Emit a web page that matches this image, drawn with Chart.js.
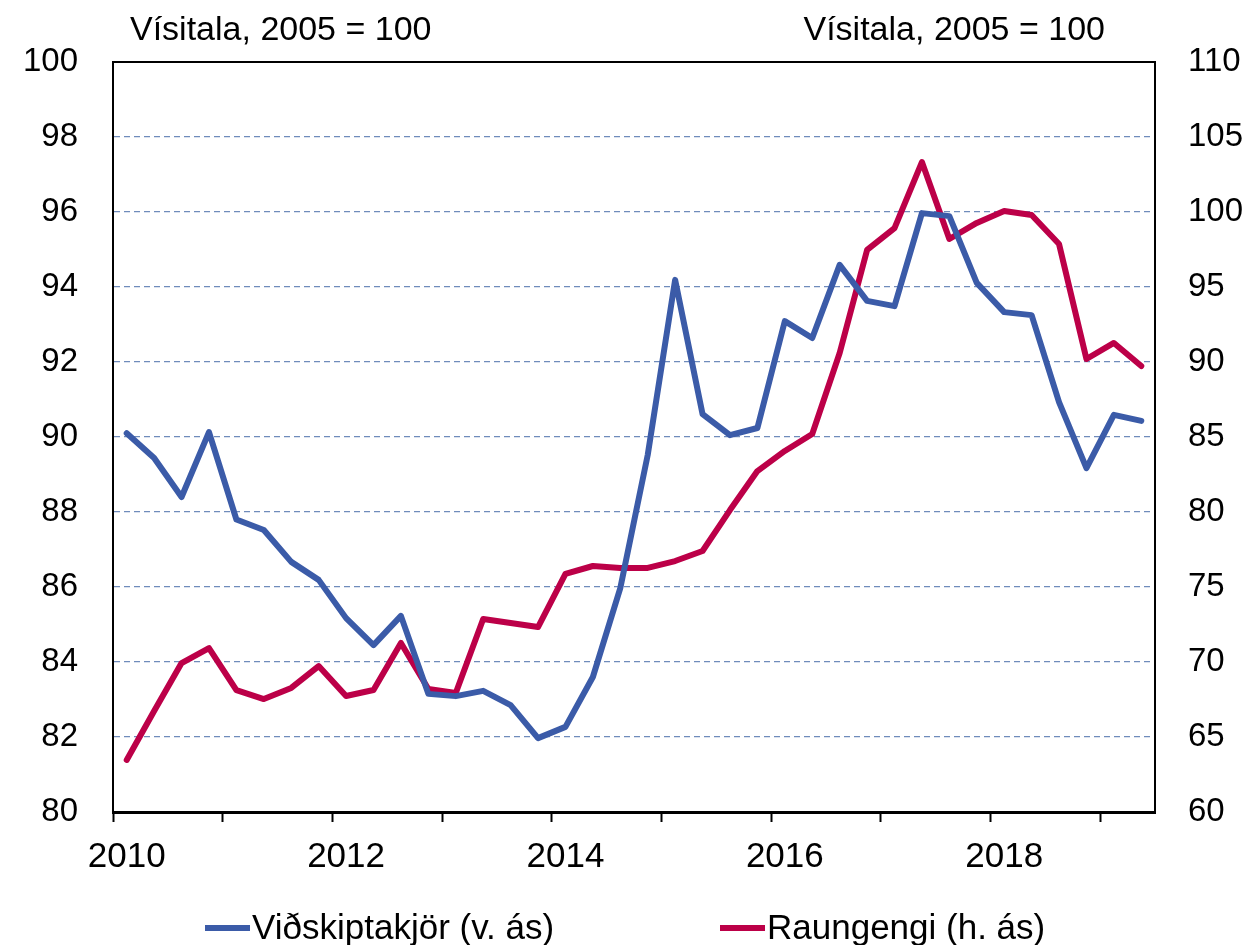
<!DOCTYPE html>
<html>
<head>
<meta charset="utf-8">
<script src="https://cdn.jsdelivr.net/npm/chart.js@4.4.1/dist/chart.umd.min.js"></script>
<style>
html,body{margin:0;padding:0;background:#fff;}
#wrap{width:1254px;height:945px;position:relative;}
</style>
</head>
<body>
<div id="wrap"><canvas id="c" width="1254" height="945"></canvas></div>
<script>
// Quarterly categories 2010Q1 – 2019Q2
const years = [2010,2011,2012,2013,2014,2015,2016,2017,2018,2019];
const categories = [];
years.forEach(y => { for (let q = 1; q <= 4; q++) { if (y === 2019 && q > 2) break; categories.push(y + 'Q' + q); } });

const yearLabels = ['2010','2012','2014','2016','2018'];

// Viðskiptakjör (left axis)
const vidskiptakjor = [90.10,89.44,88.40,90.13,87.80,87.52,86.67,86.19,85.17,84.45,
  85.23,83.15,83.09,83.23,82.85,81.97,82.27,83.60,85.97,89.52,
  94.19,90.61,90.05,90.24,93.09,92.64,94.59,93.63,93.49,95.97,
  95.89,94.11,93.33,93.25,90.93,89.17,90.59,90.43];

// Raungengi (right axis)
const raungengi = [63.47,66.73,69.93,70.93,68.13,67.53,68.27,69.73,67.73,68.13,
  71.27,68.20,67.93,72.87,72.60,72.33,75.87,76.40,76.27,76.27,
  76.73,77.40,80.13,82.73,84.07,85.20,90.60,97.47,98.93,103.33,
  98.20,99.27,100.07,99.80,97.87,90.20,91.27,89.73];

const leftTitle = 'Vísitala, 2005 = 100';
const rightTitle = 'Vísitala, 2005 = 100';
const seriesNames = ['Viðskiptakjör (v. ás)', 'Raungengi (h. ás)'];
const colors = ['#3B5BA8', '#BC0048'];

const FONT = "'Liberation Sans', Arial, sans-serif";

const overlay = {
  id: 'overlay',
  afterDraw(chart) {
    const ctx = chart.ctx;
    const a = chart.chartArea;
    ctx.save();
    // top border line
    ctx.strokeStyle = '#000';
    ctx.lineWidth = 2;
    ctx.beginPath();
    ctx.moveTo(a.left, a.top);
    ctx.lineTo(a.right, a.top);
    ctx.stroke();
    // titles
    ctx.fillStyle = '#000';
    ctx.font = '34px ' + FONT;
    ctx.textBaseline = 'middle';
    ctx.textAlign = 'left';
    ctx.fillText(leftTitle, 130, 31);
    ctx.textAlign = 'right';
    ctx.fillText(rightTitle, 1105, 31);
    // legend
    ctx.font = '35px ' + FONT;
    const items = [{x: 205, text: seriesNames[0], c: colors[0]}, {x: 720, text: seriesNames[1], c: colors[1]}];
    ctx.textAlign = 'left';
    items.forEach(it => {
      ctx.strokeStyle = it.c;
      ctx.lineWidth = 6;
      ctx.beginPath();
      ctx.moveTo(it.x, 928);
      ctx.lineTo(it.x + 45, 928);
      ctx.stroke();
      ctx.fillStyle = '#000';
      ctx.fillText(it.text, it.x + 47, 929);
    });
    ctx.restore();
  }
};

new Chart(document.getElementById('c'), {
  type: 'line',
  data: {
    labels: categories,
    datasets: [
      { label: seriesNames[0], data: vidskiptakjor, borderColor: colors[0], backgroundColor: colors[0],
        borderWidth: 6, pointRadius: 0, tension: 0, yAxisID: 'y', borderJoinStyle: 'round', borderCapStyle: 'round' },
      { label: seriesNames[1], data: raungengi, borderColor: colors[1], backgroundColor: colors[1],
        borderWidth: 6, pointRadius: 0, tension: 0, yAxisID: 'y1', borderJoinStyle: 'round', borderCapStyle: 'round' }
    ]
  },
  options: {
    responsive: false,
    animation: false,
    events: [],
    layout: { padding: { top: 62, left: 0, right: 0, bottom: 0 } },
    plugins: { legend: { display: false }, tooltip: { enabled: false } },
    scales: {
      x: {
        type: 'category',
        offset: true,
        afterFit(s) { s.height = 133; },
        grid: {
          offset: true,
          drawOnChartArea: false,
          drawTicks: true,
          tickLength: 10,
          tickWidth: 2,
          tickColor: c => (c.index % 4 === 0 ? '#000' : 'rgba(0,0,0,0)')
        },
        border: { display: true, color: '#000', width: 3 },
        ticks: {
          autoSkip: false,
          maxRotation: 0,
          minRotation: 0,
          padding: 14,
          color: '#000',
          font: { family: FONT, size: 35 },
          callback(v, i) {
            const lab = categories[i];
            const yr = lab.slice(0, 4);
            return (lab.endsWith('Q1') && yearLabels.includes(yr)) ? yr : '';
          }
        }
      },
      y: {
        position: 'left',
        min: 80, max: 100,
        afterFit(s) { s.width = 113; },
        ticks: { stepSize: 2, padding: 35, color: '#000', font: { family: FONT, size: 33 } },
        grid: {
          drawTicks: false,
          lineWidth: 1.3,
          color: c => (c.tick && (c.tick.value === 80 || c.tick.value === 100)) ? 'rgba(0,0,0,0)' : '#6F8BBB'
        },
        border: { display: true, color: '#000', width: 2, dash: [6, 4] }
      },
      y1: {
        position: 'right',
        min: 60, max: 110,
        afterFit(s) { s.width = 99; },
        ticks: { stepSize: 5, padding: 33, color: '#000', font: { family: FONT, size: 33 } },
        grid: { drawOnChartArea: false, drawTicks: false },
        border: { display: true, color: '#000', width: 2 }
      }
    }
  },
  plugins: [overlay]
});
</script>
</body>
</html>
